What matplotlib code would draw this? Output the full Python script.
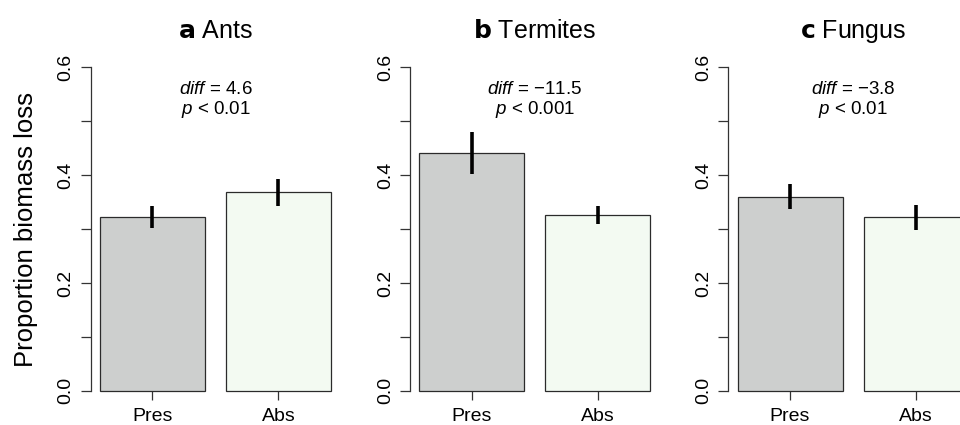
import matplotlib
matplotlib.use("Agg")
import matplotlib.pyplot as plt

plt.rcParams['font.family'] = ['Liberation Sans', 'DejaVu Sans']
plt.rcParams['mathtext.fontset'] = 'custom'
plt.rcParams['mathtext.rm'] = 'Liberation Sans'
plt.rcParams['mathtext.it'] = 'Liberation Sans:italic'

categories = ["Pres", "Abs"]
panel_letters = ["a", "b", "c"]
panel_names = ["Ants", "Termites", "Fungus"]
means = [[0.322, 0.369], [0.442, 0.326], [0.360, 0.322]]
err_low = [[0.302, 0.343], [0.403, 0.309], [0.338, 0.299]]
err_high = [[0.343, 0.393], [0.480, 0.343], [0.383, 0.345]]
diff_labels = ["4.6", "\u221211.5", "\u22123.8"]
p_labels = ["0.01", "0.001", "0.01"]
yticks = [0.0, 0.1, 0.2, 0.3, 0.4, 0.5, 0.6]
ytick_labels = ["0.0", "", "0.2", "", "0.4", "", "0.6"]

bar_colors = ["#cdcfce", "#f3faf2"]

W, H = 960, 425
fig = plt.figure(figsize=(W / 100, H / 100), dpi=100)

ax_left_px = [90.7, 410.0, 728.3]
ax_w_px = 249.5
ax_top_px = 54.4
ax_bot_px = 403.7

xpos = [0.7, 1.9]
for i in range(3):
    ax = fig.add_axes([ax_left_px[i] / W, (H - ax_bot_px) / H,
                       ax_w_px / W, (ax_bot_px - ax_top_px) / H])
    ax.bar(xpos, means[i], width=1.0, color=bar_colors,
           edgecolor="#2b2b2b", linewidth=0.9, zorder=2)
    ax.vlines(xpos, err_low[i], err_high[i], color="black",
              linewidth=2.6, zorder=3)
    ax.set_xlim(0.112, 2.488)
    ax.set_ylim(-0.024, 0.624)
    for s in ["top", "right"]:
        ax.spines[s].set_visible(False)
    ax.spines["bottom"].set_position(("data", 0))
    ax.spines["bottom"].set_visible(False)
    ax.spines["left"].set_bounds(0, 0.6)
    ax.spines["left"].set_color("#333333")
    ax.spines["left"].set_linewidth(0.9)
    ax.set_yticks(yticks)
    ax.set_yticklabels(ytick_labels, rotation=90, va="center", fontsize=14)
    ax.set_xticks(xpos)
    ax.set_xticklabels(categories, fontsize=14)
    ax.tick_params(axis="y", length=7.5, width=0.9, color="#333333", pad=4)
    ax.tick_params(axis="x", length=6.5, width=0.9, color="#333333", pad=6)
    if i == 0:
        ax.set_ylabel("Proportion biomass loss", fontsize=18.5, labelpad=14)
    ax.set_title(r"$\bf{" + panel_letters[i] + r"}$ " + panel_names[i],
                 fontsize=18, pad=11.5)
    ax.text(1.3, 0.558, r"$\it{diff}$ = " + diff_labels[i], ha="center",
            va="center", fontsize=13.5)
    ax.text(1.3, 0.521, r"$\it{p}$ < " + p_labels[i], ha="center",
            va="center", fontsize=13.5)

fig.savefig("out.png", dpi=100)
